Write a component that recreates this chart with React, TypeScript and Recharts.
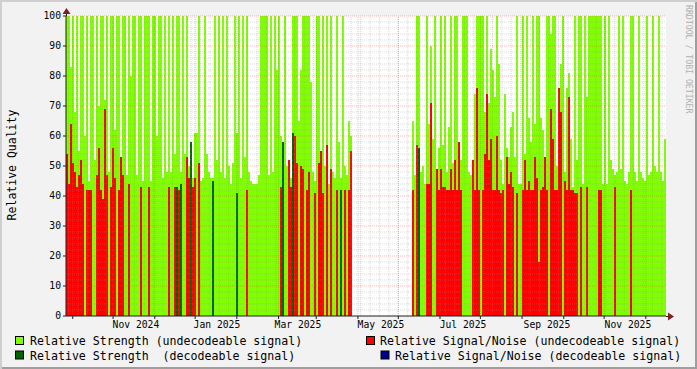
import React from 'react';
import { ComposedChart, Area, XAxis, YAxis, ReferenceLine, CartesianGrid } from 'recharts';

const W = 697;
const H = 369;
const FONT = '"DejaVu Sans Mono", monospace';

// time axis: days since 2024-08-27, samples every SPAN/300 days
const START_UTC = Date.UTC(2024, 7, 27);
const DAY_MS = 86400000;
const SPAN_DAYS = 446;
const SAMPLE_COUNT = 300;
const SAMPLE_DAYS = SPAN_DAYS / SAMPLE_COUNT;

// Relative Strength (undecodeable signal)
const strengthUndecodeable: (number | null)[] = [
  100, 100, 83, 100, 68, 100, 55, 100, 100, 60,
  100, 45, 100, 100, 52, 100, 70, 100, 100, 72,
  100, 48, 100, 100, 62, 100, 100, 45, 100, 100,
  47, 100, 80, 100, 100, 47, 100, 100, 45, 100,
  100, 100, 45, 100, 100, 60, 100, 100, 46, 100,
  48, 100, 48, 100, 54, 100, 100, 48, 100, 54,
  100, 50, 52, 46, 61, 61, 100, 45, 46, 100,
  54, 48, 46, 46, 100, 52, 100, 48, 100, 46,
  100, 50, 44, 51, 100, 61, 100, 46, 100, 53,
  100, 48, 45, 44, 44, 44, 47, 100, 100, 100,
  100, 47, 100, 48, 100, 82, 100, 60, 53, 100,
  50, 50, 46, 100, 100, 100, 65, 82, 100, 100,
  100, 100, 78, 48, 45, 100, 100, 44, 100, 50,
  100, 44, 100, 48, 46, 100, 58, 46, 100, 50,
  47, 65, 60, 48, null, null, null, null, null, null,
  null, null, null, null, null, null, null, null, null, null,
  null, null, null, null, null, null, null, null, null, null,
  null, null, null, 65, 47, 100, 100, 48, 50, 44,
  100, 64, 90, 59, 100, 46, 56, 100, 57, 100,
  48, 63, 100, 51, 100, 100, 45, 52, 100, 100,
  100, 48, 47, 44, 74, 100, 100, 100, 100, 68,
  100, 71, 89, 82, 73, 100, 84, 52, 44, 74,
  56, 53, 63, 68, 53, 100, 44, 44, 100, 54,
  100, 66, 58, 100, 64, 100, 100, 66, 62, 45,
  100, 100, 94, 100, 100, 50, 68, 84, 100, 48,
  76, 81, 59, 43, 100, 52, 100, 100, 44, 100,
  73, 100, 100, 100, 100, 100, 100, 100, 44, 100,
  44, 100, 52, 49, 47, 48, 100, 49, 100, 45,
  44, 48, 100, 100, 48, 45, 100, 48, 46, 45,
  100, 47, 48, 100, 50, 48, 100, 48, 45, 59,
];

// Relative Signal/Noise (undecodeable signal)
const snrUndecodeable: (number | null)[] = [
  54, 44, 64, 51, 48, 43, 47, 52, 44, 0,
  42, 42, 42, 0, 0, 47, 56, 42, 39, 69,
  47, 0, 43, 56, 46, 0, 42, 53, 47, 0,
  0, 44, 0, 0, 0, 0, 0, 43, 0, 0,
  0, 43, 0, 0, 0, 0, 0, 0, 0, 0,
  0, 43, 0, 0, 43, 0, 42, 0, 0, 0,
  53, 46, 45, 43, 46, 0, 51, 0, 0, 0,
  0, 0, 0, 45, 0, 0, 0, 0, 0, 0,
  0, 0, 0, 0, 0, 41, 0, 0, 0, 0,
  42, 0, 0, 0, 0, 0, 0, 0, 0, 0,
  0, 0, 0, 0, 0, 0, 0, 43, 0, 0,
  0, 52, 43, 61, 60, 51, 0, 50, 49, 0,
  42, 48, 0, 0, 41, 0, 51, 55, 41, 0,
  57, 0, 49, 0, 0, 42, 0, 41, 0, 42,
  0, 42, 55, 0, null, null, null, null, null, null,
  null, null, null, null, null, null, null, null, null, null,
  null, null, null, null, null, null, null, null, null, null,
  null, null, null, 42, 0, 57, 43, 0, 0, 0,
  44, 44, 71, 0, 0, 49, 42, 49, 43, 43,
  42, 42, 49, 42, 52, 42, 58, 42, 0, 0,
  0, 0, 0, 52, 42, 76, 42, 0, 42, 54,
  74, 52, 59, 42, 42, 60, 42, 41, 42, 0,
  53, 44, 48, 43, 0, 41, 0, 0, 42, 52,
  42, 45, 42, 42, 53, 46, 18, 42, 43, 53,
  42, 0, 69, 59, 42, 42, 76, 68, 0, 45,
  42, 73, 42, 42, 41, 41, 0, 43, 0, 0,
  43, 0, 0, 0, 0, 0, 42, 42, 0, 0,
  0, 0, 0, 0, 43, 0, 0, 0, 0, 0,
  0, 0, 42, 0, 0, 0, 0, 0, 0, 0,
  0, 0, 0, 0, 0, 0, 0, 0, 0, 0,
];

// Relative Strength (decodeable signal): [sample index, value]
const strengthDecodeable: [number, number][] = [
  [55, 43], [57, 44], [62, 58], [73, 45], [85, 41],
  [108, 58], [113, 61], [137, 42], [176, 56],
];

// Relative Signal/Noise (decodeable signal): none in this period
const snrDecodeable: [number, number][] = [];

// month starts [year, monthIndex]
const monthStarts: [number, number][] = [
  [2024, 8], [2024, 9], [2024, 10], [2024, 11],
  [2025, 0], [2025, 1], [2025, 2], [2025, 3], [2025, 4], [2025, 5],
  [2025, 6], [2025, 7], [2025, 8], [2025, 9], [2025, 10],
];

const xTickLabels = ['Nov 2024', 'Jan 2025', 'Mar 2025', 'May 2025', 'Jul 2025', 'Sep 2025', 'Nov 2025'];
const xTickDays = [52, 112.2, 172.4, 234.1, 295.1, 357.5, 417.7];
const yTicks = [0, 10, 20, 30, 40, 50, 60, 70, 80, 90, 100];

const legendItems = [
  { label: 'Relative Strength (undecodeable signal)', color: '#80ff00' },
  { label: 'Relative Signal/Noise (undecodeable signal)', color: '#ff0000' },
  { label: 'Relative Strength  (decodeable signal)', color: '#006400' },
  { label: 'Relative Signal/Noise (decodeable signal)', color: '#00008b' },
];

const dgMap = new Map(strengthDecodeable);
const dbMap = new Map(snrDecodeable);

const data: any[] = strengthUndecodeable.map((g, i) => ({
  day: i * SAMPLE_DAYS,
  g,
  r: snrUndecodeable[i],
  dg: g === null ? null : dgMap.get(i) ?? 0,
  db: g === null ? null : dbMap.get(i) ?? 0,
}));
{
  const last = data[data.length - 1];
  data.push({ ...last, day: SPAN_DAYS });
}

const monthDays = monthStarts
  .map(([y, m]) => (Date.UTC(y, m, 1) - START_UTC) / DAY_MS)
  .filter((d) => d > 0 && d < SPAN_DAYS);

const weekDays: number[] = [];
for (let d = 2; d < SPAN_DAYS; d += 7) weekDays.push(d);

const minorY: number[] = [];
for (let v = 2; v < 100; v += 2) if (v % 10 !== 0) minorY.push(v);
const majorY = yTicks.filter((v) => v > 0);

const GRID = 'rgba(143,143,143,0.35)';
const MGRID = 'rgba(222,79,79,0.4)';
const AXIS = '#1f1f1f';
const ARROW = '#801f1f';

export default function App() {
  return (
    <div
      style={{
        position: 'absolute',
        left: 0,
        top: 0,
        width: W,
        height: H,
        background: '#f2f2f2',
        boxShadow: 'inset 2px 2px 0 #cfcfcf, inset -2px -2px 0 #9e9e9e',
        overflow: 'hidden',
      }}
    >
      <div style={{ position: 'absolute', left: 0, top: 0 }}>
        <ComposedChart width={W} height={H} data={data} margin={{ top: 16, right: 31, bottom: 33, left: 26 }}>
          <CartesianGrid fill="#ffffff" stroke="none" horizontal={false} vertical={false} />
          <XAxis
            type="number"
            dataKey="day"
            domain={[0, SPAN_DAYS]}
            allowDataOverflow
            ticks={xTickDays}
            interval={0}
            tickFormatter={(v: number) => xTickLabels[xTickDays.indexOf(v)] ?? ''}
            tickLine={false}
            tickSize={3}
            tickMargin={2}
            axisLine={{ stroke: AXIS }}
            height={20}
            tick={{ fontSize: 9.7, fontFamily: FONT, fill: '#000' }}
          />
          <YAxis
            type="number"
            domain={[0, 100]}
            allowDataOverflow
            ticks={yTicks}
            interval={0}
            width={40}
            tickSize={3}
            tickMargin={2}
            axisLine={{ stroke: AXIS }}
            tickLine={{ stroke: AXIS }}
            tick={{ fontSize: 9.7, fontFamily: FONT, fill: '#000' }}
          />
          <Area type="stepAfter" dataKey="g" fill="#80ff00" fillOpacity={1} stroke="none" baseValue={0}
            isAnimationActive={false} dot={false} activeDot={false} />
          <Area type="stepAfter" dataKey="r" fill="#ff0000" fillOpacity={1} stroke="none" baseValue={0}
            isAnimationActive={false} dot={false} activeDot={false} />
          <Area type="stepAfter" dataKey="dg" fill="#006400" fillOpacity={1} stroke="none" baseValue={0}
            isAnimationActive={false} dot={false} activeDot={false} />
          <Area type="stepAfter" dataKey="db" fill="#00008b" fillOpacity={1} stroke="none" baseValue={0}
            isAnimationActive={false} dot={false} activeDot={false} />
          {minorY.map((v) => (
            <ReferenceLine key={'hy' + v} y={v} stroke={GRID} strokeDasharray="1 1" strokeWidth={1} />
          ))}
          {weekDays.map((d) => (
            <ReferenceLine key={'wx' + d} x={d} stroke={GRID} strokeDasharray="1 1" strokeWidth={1} />
          ))}
          {majorY.map((v) => (
            <ReferenceLine key={'my' + v} y={v} stroke={MGRID} strokeDasharray="1 1" strokeWidth={1} />
          ))}
          {monthDays.map((d) => (
            <ReferenceLine key={'mx' + d} x={d} stroke={MGRID} strokeDasharray="1 1" strokeWidth={1} />
          ))}
          {monthDays.map((d) => (
            <ReferenceLine key={'tk' + d} ifOverflow="visible" stroke={AXIS} strokeWidth={1}
              segment={[{ x: d, y: 0 }, { x: d, y: -1 }]} />
          ))}
        </ComposedChart>
      </div>
      <svg width={W} height={H} style={{ position: 'absolute', left: 0, top: 0, pointerEvents: 'none' }}>
        {/* axis arrows */}
        <line x1={666} y1={316.5} x2={669} y2={316.5} stroke={AXIS} />
        <polygon points="668,312.5 674,316.5 668,320.5" fill={ARROW} />
        <line x1={66.5} y1={16} x2={66.5} y2={13} stroke={AXIS} />
        <polygon points="62.5,14 66.5,8 70.5,14" fill={ARROW} />
        {/* y title */}
        <text
          transform="translate(16,165) rotate(-90)"
          textAnchor="middle"
          fontFamily={FONT}
          fontSize={11.5}
          fill="#000"
        >
          Relative Quality
        </text>
        {/* watermark */}
        <text
          transform="translate(686,5) rotate(90)"
          fontFamily={FONT}
          fontSize={8.2}
          fill="#b0b0b0"
          style={{ whiteSpace: 'pre' }}
        >
          RRDTOOL / TOBI OETIKER
        </text>
        {/* legend */}
        {legendItems.map((it, k) => {
          const pos = [
            { sx: 15, tx: 30, y: 345 },
            { sx: 366, tx: 380, y: 345 },
            { sx: 15, tx: 30, y: 359.5 },
            { sx: 380.5, tx: 395, y: 359.5 },
          ][k];
          return (
            <g key={it.label}>
              <rect x={pos.sx + 0.5} y={pos.y - 8.5} width={8} height={8} fill={it.color} stroke="#000" strokeWidth={1} />
              <text x={pos.tx} y={pos.y} fontFamily={FONT} fontSize={11.6} fill="#000" style={{ whiteSpace: 'pre' }}>
                {it.label}
              </text>
            </g>
          );
        })}
      </svg>
    </div>
  );
}
